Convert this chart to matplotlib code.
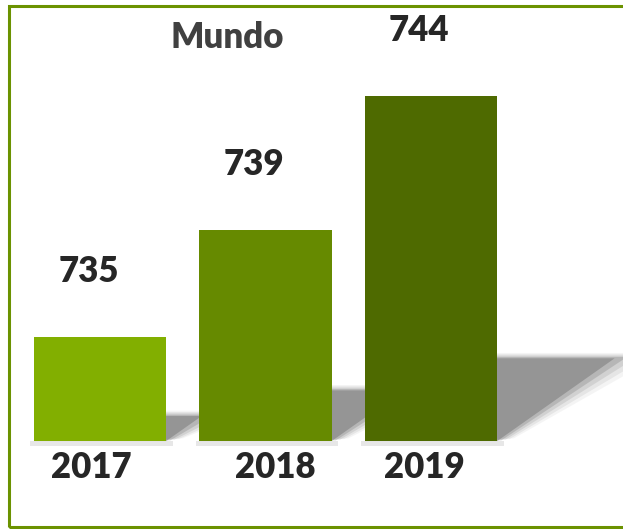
import matplotlib
matplotlib.use("Agg")
import matplotlib.pyplot as plt
from matplotlib.patches import Polygon, Rectangle

# datos
anios = ["2017", "2018", "2019"]
valores = [735, 739, 744]
colores = ["#82AF00", "#668A00", "#4E6A00"]
titulo = "Mundo"

base = 731.1          # base visual de las barras
ancho = 0.8
desp_anio = [-0.05, 0.06, -0.04]   # pequeño desplazamiento de etiquetas

fig = plt.figure(figsize=(6.23, 5.29), dpi=100)
ax = fig.add_axes([0, 0, 1, 1])
ax.set_xlim(-0.604, 3.16)
ax.set_ylim(base - 3.29, base + 16.5)
ax.axis("off")

x = list(range(len(valores)))

# sombras (capas con alpha para simular desenfoque)
for xi, v in zip(x, valores):
    h = v - base
    xl, xr = xi - ancho / 2, xi + ancho / 2
    ytop = base + 0.24 * h
    dx = 0.055 * h
    for k, a in enumerate([0.08, 0.12, 0.18, 0.3, 0.55]):
        g = (4 - k) * 0.025
        pts = [(xl, base + g), (xr + g, base + g),
               (xr + dx + g * 3, ytop + g * 2), (xl + dx, ytop + g * 2)]
        ax.add_patch(Polygon(pts, closed=True, color="#7a7a7a", alpha=a,
                             lw=0, zorder=1))
    ax.add_patch(Rectangle((xl - 0.02, base - 0.18), ancho + 0.06, 0.18,
                           color="#bdbdbd", alpha=0.35, lw=0, zorder=1))

ax.bar(x, [v - base for v in valores], bottom=base, width=ancho,
       color=colores, zorder=3)

fuente = "Lato"
for xi, v, a, d in zip(x, valores, anios, desp_anio):
    ax.text(xi - 0.07, v + 2.45, str(v), ha="center", va="center",
            fontsize=25, fontweight="heavy", color="#262626", family=fuente)
    ax.text(xi + d, base - 1.0, a, ha="center", va="center",
            fontsize=25, fontweight="heavy", color="#262626", family=fuente)

fig.text(227 / 623, 1 - 37 / 529, titulo, ha="center", va="center",
         fontsize=25, fontweight="heavy", color="#404040", family=fuente)

# marco verde
fig.patches.append(Rectangle((9 / 623, 2 / 529), 1.2, 521 / 529,
                             transform=fig.transFigure, fill=False,
                             edgecolor="#6B9200", lw=2.2, zorder=10))

fig.savefig("out.png", dpi=100, facecolor="white")
